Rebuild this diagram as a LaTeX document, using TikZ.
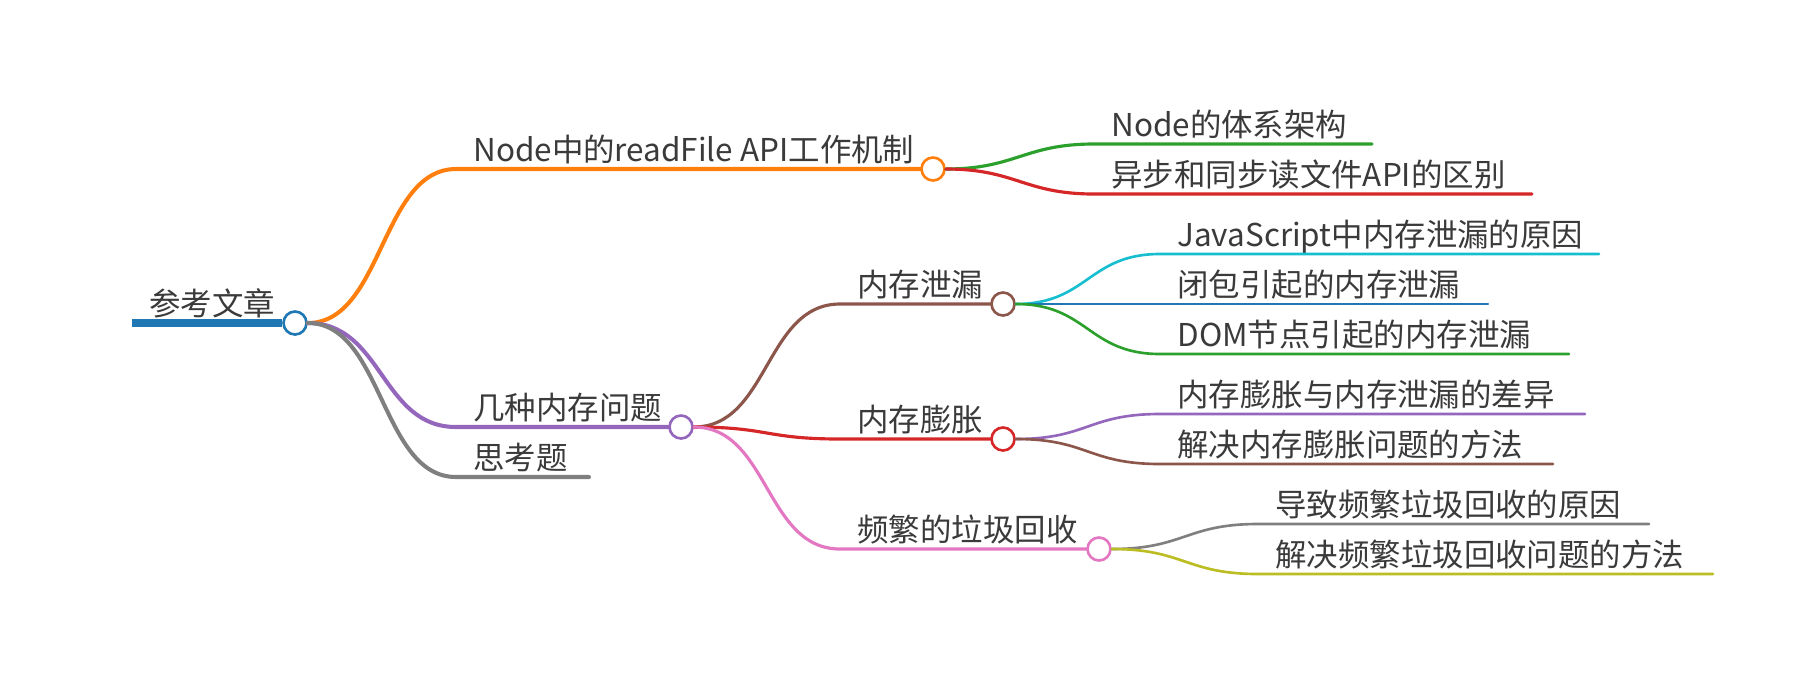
\documentclass[tikz,border=0pt]{standalone}
\usepackage{fontspec}
\setmainfont{Noto Sans CJK SC}
\usepackage{xcolor}
\definecolor{MapBlue}{HTML}{1F77B4}
\definecolor{MapOrange}{HTML}{FF7F0E}
\definecolor{MapGreen}{HTML}{2CA02C}
\definecolor{MapRed}{HTML}{D62728}
\definecolor{MapPurple}{HTML}{9467BD}
\definecolor{MapBrown}{HTML}{8C564B}
\definecolor{MapPink}{HTML}{E377C2}
\definecolor{MapGray}{HTML}{7F7F7F}
\definecolor{MapOlive}{HTML}{BCBD22}
\definecolor{MapCyan}{HTML}{17BECF}
\definecolor{TextColor}{HTML}{3A3A3A}
\usetikzlibrary{positioning, calc}

\begin{document}
\begin{tikzpicture}[
    x=0.02cm, y=-0.02cm,
    topic/.style={anchor=base west, inner sep=0pt, text=TextColor, font=\fontsize{17.9}{20}\selectfont},
    dot/.style={circle, draw, fill=white, line width=1.5pt, minimum size=0.46cm, inner sep=0pt},
    rootline/.style={line width=4pt},
    lvla/.style={line width=2.3pt},
    lvlb/.style={line width=1.8pt},
    lvlc/.style={line width=1.5pt},
    link/.style={line cap=round},
]
\useasboundingbox (0,0) rectangle (1812,691);

% ============================================
% ROOT
% ============================================
\coordinate (root-s) at (132,323);
\node[dot, draw=MapBlue] (root) at (295,323) {};
\node[topic] (root-t) at (149,315) {参考文章};
\draw[MapBlue, rootline] (root-s) -- (root.west);

% ============================================
% LEVEL 1 - lines and circles
% ============================================
\coordinate (nodeapi-s) at (456,169);
\node[dot, draw=MapOrange] (nodeapi) at (933,169) {};
\node[topic] (nodeapi-t) at (473,161) {Node中的readFile API工作机制};

\coordinate (memprob-s) at (456,427);
\node[dot, draw=MapPurple] (memprob) at (681,427) {};
\node[topic] (memprob-t) at (473,419) {几种内存问题};

\coordinate (quiz-s) at (456,477);
\coordinate (quiz-e) at (589,477);
\node[topic] (quiz-t) at (473,469) {思考题};

% ============================================
% LEVEL 2 - lines and circles
% ============================================
\coordinate (arch-s) at (1094,144);
\coordinate (arch-e) at (1372,144);
\node[topic] (arch-t) at (1111,136) {Node的体系架构};

\coordinate (syncdiff-s) at (1094,194);
\coordinate (syncdiff-e) at (1532,194);
\node[topic] (syncdiff-t) at (1111,186) {异步和同步读文件API的区别};

\coordinate (leak-s) at (840,304);
\node[dot, draw=MapBrown] (leak) at (1003,304) {};
\node[topic] (leak-t) at (857,296) {内存泄漏};

\coordinate (bloat-s) at (840,439);
\node[dot, draw=MapRed] (bloat) at (1003,439) {};
\node[topic] (bloat-t) at (857,431) {内存膨胀};

\coordinate (gc-s) at (840,549);
\node[dot, draw=MapPink] (gc) at (1099,549) {};
\node[topic] (gc-t) at (857,541) {频繁的垃圾回收};

% ============================================
% LEVEL 3 - leaves
% ============================================
\coordinate (jsleak-s) at (1160,254);
\coordinate (jsleak-e) at (1599,254);
\node[topic] (jsleak-t) at (1177,246) {JavaScript中内存泄漏的原因};

\coordinate (closure-s) at (1160,304);
\coordinate (closure-e) at (1488,304);
\node[topic] (closure-t) at (1177,296) {闭包引起的内存泄漏};

\coordinate (domleak-s) at (1160,354);
\coordinate (domleak-e) at (1569,354);
\node[topic] (domleak-t) at (1177,346) {DOM节点引起的内存泄漏};

\coordinate (bloatdiff-s) at (1160,414);
\coordinate (bloatdiff-e) at (1585,414);
\node[topic] (bloatdiff-t) at (1177,406) {内存膨胀与内存泄漏的差异};

\coordinate (bloatfix-s) at (1160,464);
\coordinate (bloatfix-e) at (1553,464);
\node[topic] (bloatfix-t) at (1177,456) {解决内存膨胀问题的方法};

\coordinate (gccause-s) at (1258,524);
\coordinate (gccause-e) at (1649,524);
\node[topic] (gccause-t) at (1275,516) {导致频繁垃圾回收的原因};

\coordinate (gcfix-s) at (1258,574);
\coordinate (gcfix-e) at (1713,574);
\node[topic] (gcfix-t) at (1275,566) {解决频繁垃圾回收问题的方法};

% ============================================
% LINKS - Root to level 1
% ============================================
\draw[MapOrange, lvla, link] (root.east) .. controls +(75,0) and +(-75,0) .. (nodeapi-s) -- (nodeapi.west);
\draw[MapPurple, lvla, link] (root.east) .. controls +(75,0) and +(-75,0) .. (memprob-s) -- (memprob.west);
\draw[MapGray, lvla, link] (root.east) .. controls +(75,0) and +(-75,0) .. (quiz-s) -- (quiz-e);

% ============================================
% LINKS - Level 1 to level 2
% ============================================
\draw[MapGreen, lvlb, link] (nodeapi.east) .. controls +(70,0) and +(-70,0) .. (arch-s) -- (arch-e);
\draw[MapRed, lvlb, link] (nodeapi.east) .. controls +(70,0) and +(-70,0) .. (syncdiff-s) -- (syncdiff-e);
\draw[MapBrown, lvlb, link] (memprob.east) .. controls +(75,0) and +(-75,0) .. (leak-s) -- (leak.west);
\draw[MapRed, lvlb, link] (memprob.east) .. controls +(75,0) and +(-75,0) .. (bloat-s) -- (bloat.west);
\draw[MapPink, lvlb, link] (memprob.east) .. controls +(75,0) and +(-75,0) .. (gc-s) -- (gc.west);

% ============================================
% LINKS - Level 2 to leaves
% ============================================
\draw[MapCyan, lvlc, link] (leak.east) .. controls +(72,0) and +(-72,0) .. (jsleak-s) -- (jsleak-e);
\draw[MapBlue, lvlc, link] (leak.east) .. controls +(72,0) and +(-72,0) .. (closure-s) -- (closure-e);
\draw[MapGreen, lvlc, link] (leak.east) .. controls +(72,0) and +(-72,0) .. (domleak-s) -- (domleak-e);
\draw[MapPurple, lvlc, link] (bloat.east) .. controls +(72,0) and +(-72,0) .. (bloatdiff-s) -- (bloatdiff-e);
\draw[MapBrown, lvlc, link] (bloat.east) .. controls +(72,0) and +(-72,0) .. (bloatfix-s) -- (bloatfix-e);
\draw[MapGray, lvlc, link] (gc.east) .. controls +(72,0) and +(-72,0) .. (gccause-s) -- (gccause-e);
\draw[MapOlive, lvlc, link] (gc.east) .. controls +(72,0) and +(-72,0) .. (gcfix-s) -- (gcfix-e);

\end{tikzpicture}
\end{document}
